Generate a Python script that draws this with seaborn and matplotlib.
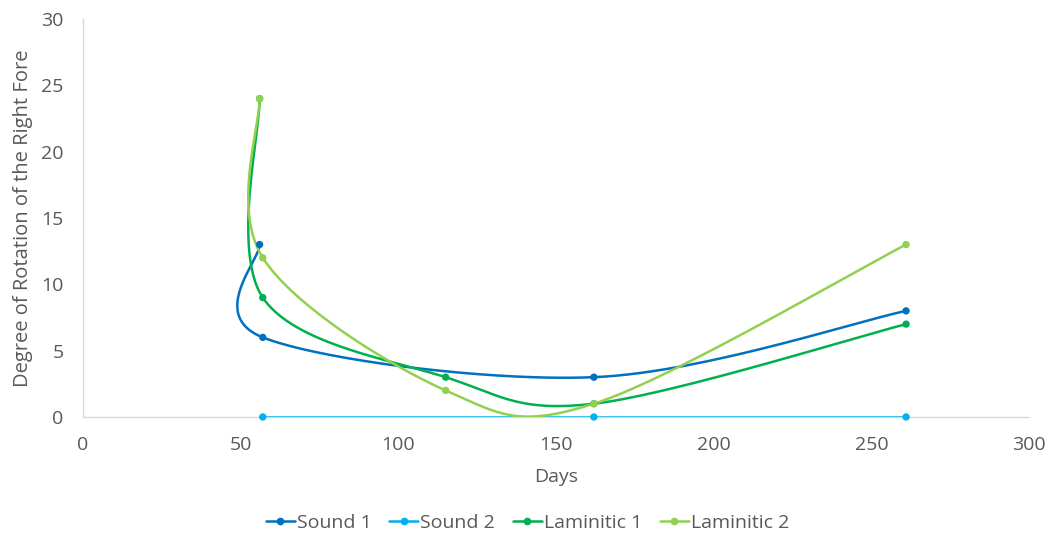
import numpy as np
import pandas as pd
import matplotlib
matplotlib.use("Agg")
import matplotlib.pyplot as plt
from matplotlib.lines import Line2D
import seaborn as sns

# Measurements: day of observation vs. rotation of the right fore (degrees)
sound1_days = [56, 57, 162, 261]
sound1_rot = [13, 6, 3, 8]

sound2_days = [57, 162, 261]
sound2_rot = [0, 0, 0]

lam1_days = [56, 57, 115, 162, 261]
lam1_rot = [24, 9, 3, 1, 7]

lam2_days = [56, 57, 115, 162, 261]
lam2_rot = [24, 12, 2, 1, 13]

series_names = ["Sound 1", "Sound 2", "Laminitic 1", "Laminitic 2"]
series_colors = ["#0070C0", "#00B0F0", "#00B050", "#92D050"]
series_data = [
    (sound1_days, sound1_rot),
    (sound2_days, sound2_rot),
    (lam1_days, lam1_rot),
    (lam2_days, lam2_rot),
]

sns.set_theme(style="white")
plt.rcParams["font.family"] = ["Open Sans", "DejaVu Sans"]

fig = plt.figure(figsize=(10.55, 5.37), dpi=100)
ax = fig.add_axes([0.0787, 0.2235, 0.8967, 0.7411])
ax.set_xlim(0, 300)
ax.set_ylim(0, 30)


def smooth_curve(ax, xs, ys, n=60):
    """Bezier smoothing computed in display space (Catmull-Rom style, 1/6 tension)."""
    pts = ax.transData.transform(np.column_stack([xs, ys]).astype(float))
    m = len(pts)
    out = []
    for i in range(m - 1):
        p0 = pts[i - 1] if i > 0 else pts[i]
        p1 = pts[i]
        p2 = pts[i + 1]
        p3 = pts[i + 2] if i + 2 < m else pts[i + 1]
        c1 = p1 + (p2 - p0) / 6.0
        c2 = p2 - (p3 - p1) / 6.0
        t = np.linspace(0, 1, n)[:, None]
        seg = ((1 - t) ** 3) * p1 + 3 * ((1 - t) ** 2) * t * c1 + 3 * (1 - t) * t ** 2 * c2 + t ** 3 * p2
        out.append(seg if i == 0 else seg[1:])
    curve = np.vstack(out)
    return ax.transData.inverted().transform(curve)


for name, color, (xs, ys) in zip(series_names, series_colors, series_data):
    curve = smooth_curve(ax, xs, ys)
    df_curve = pd.DataFrame({"x": curve[:, 0], "y": curve[:, 1]})
    sns.lineplot(data=df_curve, x="x", y="y", sort=False, estimator=None,
                 color=color, linewidth=1.8, ax=ax)
    df_pts = pd.DataFrame({"x": xs, "y": ys})
    sns.scatterplot(data=df_pts, x="x", y="y", color=color, s=28,
                    edgecolor="none", ax=ax, zorder=4, clip_on=False)

ax.set_xlim(0, 300)
ax.set_ylim(0, 30)
ax.set_xticks(np.arange(0, 301, 50))
ax.set_yticks(np.arange(0, 31, 5))

for side in ["top", "right"]:
    ax.spines[side].set_visible(False)
for side in ["left", "bottom"]:
    ax.spines[side].set_color("#D9D9D9")
    ax.spines[side].set_linewidth(1.0)
ax.spines["left"].set_zorder(0)
ax.spines["bottom"].set_zorder(0)

ax.tick_params(axis="x", length=0, labelsize=14, labelcolor="#595959", pad=14)
ax.tick_params(axis="y", length=0, labelsize=14, labelcolor="#595959", pad=14)
ax.set_xlabel("Days", fontsize=14, color="#595959", labelpad=10)
ax.set_ylabel("Degree of Rotation of the Right Fore", fontsize=14.5, color="#595959", labelpad=6)

handles = [
    Line2D([0], [0], color=c, linewidth=1.8, marker="o", markersize=4.5,
           markeredgecolor=c, markerfacecolor=c)
    for c in series_colors
]
fig.legend(handles, series_names, loc="center", bbox_to_anchor=(0.5, 0.027),
           ncol=4, frameon=False, fontsize=14, handlelength=1.5,
           handletextpad=0.1, columnspacing=0.9, labelcolor="#595959")

fig.savefig("out.png", dpi=100, facecolor="white")
